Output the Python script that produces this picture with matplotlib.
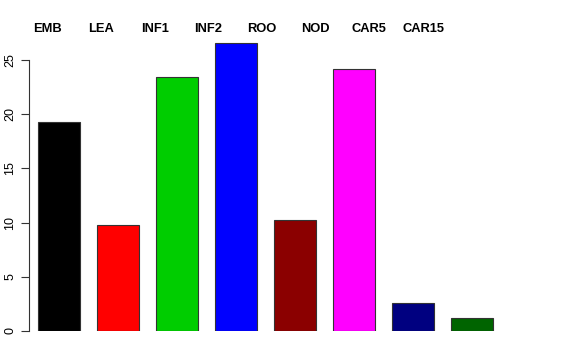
import numpy as np
import matplotlib
matplotlib.use('Agg')
import matplotlib.pyplot as plt

# tissue names and values
tissues = ['EMB', 'LEA', 'INF1', 'INF2', 'ROO', 'NOD', 'CAR5', 'CAR15']
values = [19.25, 9.8, 23.45, 26.55, 10.2, 24.15, 2.6, 1.2]
colors = ['black', 'red', '#00CD00', 'blue', '#8B0000', 'magenta', '#000080', '#006400']
yticks = [0, 5, 10, 15, 20, 25]

plt.rcParams['font.family'] = ['Liberation Sans', 'DejaVu Sans']

W, H = 576, 360
fig = plt.figure(figsize=(W / 100, H / 100), dpi=100)

# plot area in pixels: y=0 at row 331, 10.84 px per unit
left_px, right_px = 29, 547
bottom_px, top_px = 331, 38
ax = fig.add_axes([left_px / W, 1 - bottom_px / H,
                   (right_px - left_px) / W, (bottom_px - top_px) / H])

x = np.arange(len(tissues))
ax.bar(x, values, width=0.71, color=colors, edgecolor='#333333', linewidth=0.8)

ax.set_xlim((left_px - 59) / 59, (right_px - 59) / 59)
ax.set_ylim(0, (bottom_px - top_px) / 10.84)

# labels sit a bit left of their bars, spaced tighter
label_x = [-0.2 + 0.91 * i for i in range(len(tissues))]
for lx, name in zip(label_x, tissues):
    ax.text(lx, 27.85, name, ha='center', va='center', fontsize=9.3,
            fontweight='bold', clip_on=False)

for s in ['top', 'right', 'bottom']:
    ax.spines[s].set_visible(False)
ax.spines['left'].set_bounds(0, 25)
ax.spines['left'].set_color('#333333')
ax.spines['left'].set_linewidth(0.8)
ax.set_xticks([])
ax.set_yticks(yticks)
ax.set_yticklabels([str(t) for t in yticks], rotation=90, va='center', fontsize=9)
ax.tick_params(axis='y', length=6, width=0.8, color='#333333', pad=3)

fig.savefig('out.png', dpi=100)
